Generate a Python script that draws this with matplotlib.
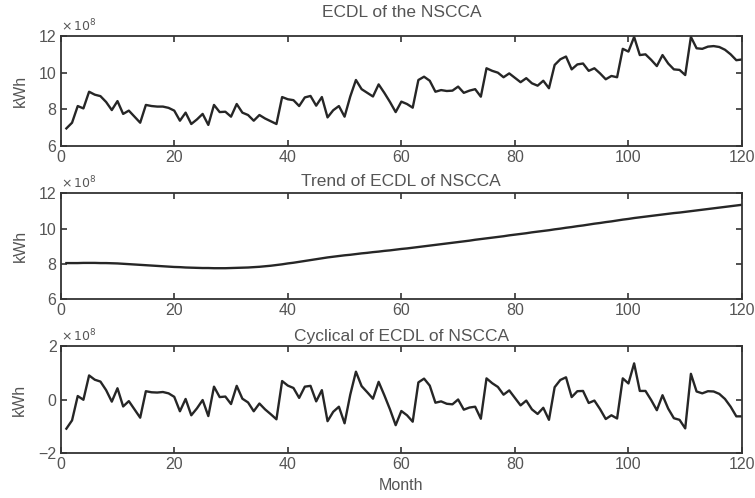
import matplotlib
matplotlib.use("Agg")
import matplotlib.pyplot as plt
import numpy as np

plt.rcParams['font.family'] = ['Liberation Sans Narrow', 'Liberation Sans', 'DejaVu Sans']

# Monthly electricity consumption (units of 1e8 kWh)
months = np.arange(1, 121)

ecdl = [
    6.96, 7.27, 8.18, 8.05, 8.96, 8.80, 8.72, 8.40, 7.96, 8.45,
    7.75, 7.93, 7.60, 7.27, 8.24, 8.18, 8.15, 8.15, 8.08, 7.93,
    7.38, 7.82, 7.20, 7.45, 7.75, 7.15, 8.24, 7.85, 7.87, 7.60,
    8.29, 7.82, 7.69, 7.38, 7.69, 7.50, 7.35, 7.20, 8.67, 8.55,
    8.50, 8.18, 8.65, 8.73, 8.20, 8.67, 7.56, 7.95, 8.18, 7.60,
    8.70, 9.60, 9.10, 8.90, 8.70, 9.36, 8.90, 8.40, 7.85, 8.42,
    8.29, 8.09, 9.60, 9.78, 9.56, 8.96, 9.05, 9.00, 9.02, 9.24,
    8.90, 9.02, 9.10, 8.69, 10.24, 10.10, 10.00, 9.75, 9.96, 9.72,
    9.48, 9.70, 9.42, 9.29, 9.56, 9.15, 10.42, 10.73, 10.88, 10.18,
    10.45, 10.50, 10.10, 10.24, 9.96, 9.64, 9.82, 9.75, 11.30, 11.15,
    11.95, 10.96, 11.00, 10.70, 10.36, 10.96, 10.50, 10.18, 10.15, 9.87,
    11.95, 11.33, 11.30, 11.42, 11.45, 11.40, 11.25, 11.00, 10.68, 10.72,
]

trend = [
    8.05, 8.05, 8.05, 8.06, 8.06, 8.06, 8.05, 8.05, 8.04, 8.03,
    8.01, 7.99, 7.97, 7.95, 7.93, 7.91, 7.89, 7.87, 7.85, 7.83,
    7.82, 7.80, 7.79, 7.78, 7.77, 7.77, 7.76, 7.76, 7.76, 7.77,
    7.78, 7.79, 7.80, 7.82, 7.84, 7.87, 7.90, 7.94, 7.98, 8.03,
    8.07, 8.12, 8.17, 8.22, 8.27, 8.32, 8.37, 8.41, 8.45, 8.49,
    8.52, 8.56, 8.60, 8.63, 8.67, 8.70, 8.74, 8.77, 8.81, 8.85,
    8.88, 8.92, 8.96, 9.00, 9.04, 9.08, 9.12, 9.16, 9.20, 9.24,
    9.28, 9.32, 9.37, 9.41, 9.45, 9.49, 9.53, 9.57, 9.62, 9.66,
    9.70, 9.74, 9.79, 9.83, 9.87, 9.91, 9.96, 10.00, 10.05, 10.09,
    10.14, 10.18, 10.23, 10.28, 10.32, 10.37, 10.41, 10.46, 10.51, 10.55,
    10.60, 10.64, 10.68, 10.72, 10.76, 10.80, 10.84, 10.88, 10.91, 10.95,
    10.99, 11.03, 11.07, 11.11, 11.15, 11.19, 11.23, 11.27, 11.31, 11.35,
]

# Cyclical component: series minus its trend
cyclical = np.array(ecdl) - np.array(trend)

titles = ["ECDL of the NSCCA", "Trend of ECDL of NSCCA", "Cyclical of ECDL of NSCCA"]
title_pads = [14, 5, 3.5]
series = [ecdl, trend, cyclical]
ylims = [(6, 12), (6, 12), (-2, 2)]
yticks = [[6, 8, 10, 12], [6, 8, 10, 12], [-2, 0, 2]]
xticks = [0, 20, 40, 60, 80, 100, 120]

W, H = 755, 498
fig = plt.figure(figsize=(W / 100, H / 100), dpi=100)

boxes = [(36, 146), (193.3, 299.3), (346, 453)]
left, right = 60.7, 742

text_c = '#555555'
line_c = '#262626'

for (top, bot), title, tpad, y, yl, yt in zip(boxes, titles, title_pads, series, ylims, yticks):
    ax = fig.add_axes([left / W, 1 - bot / H, (right - left) / W, (bot - top) / H])
    ax.plot(months, y, color=line_c, lw=1.7)
    ax.set_xlim(0, 120)
    ax.set_ylim(*yl)
    ax.set_xticks(xticks)
    ax.set_yticks(yt)
    ax.tick_params(direction='in', length=4, width=1.2, top=True, right=True,
                   labelsize=11.5, colors='#333333', labelcolor=text_c, pad=3)
    for s in ax.spines.values():
        s.set_linewidth(1.3)
        s.set_color('#333333')
    ax.set_title(title, fontsize=12.5, color=text_c, pad=tpad)
    ax.set_ylabel('kWh', fontsize=11.5, color=text_c, labelpad=8)
    ax.text(0.0, 1.015, r'$\times\,10^{8}$', transform=ax.transAxes, fontsize=9,
            color=text_c, ha='left', va='bottom')
    last = ax

last.set_xlabel('Month', fontsize=11.5, color=text_c, labelpad=4)

fig.savefig('out.png', dpi=100)
